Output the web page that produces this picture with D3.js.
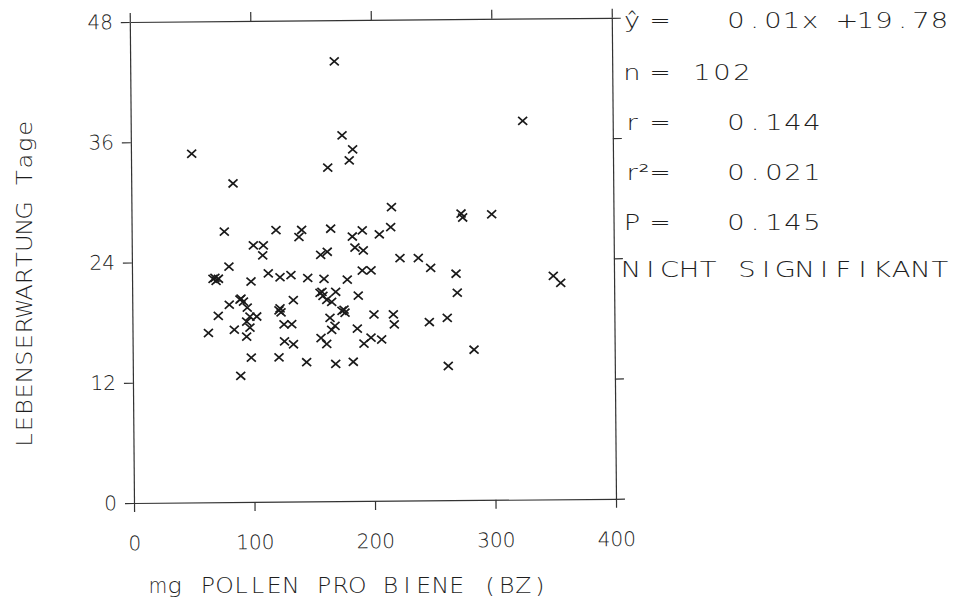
<!DOCTYPE html>
<html>
<head>
<meta charset="utf-8">
<script src="https://cdn.jsdelivr.net/npm/d3@7"></script>
<style>
  body { margin: 0; background: #fff; }
  svg text { font-family: "DejaVu Sans", sans-serif; font-weight: 200; fill: #1e1e1e; }
</style>
</head>
<body>
<div id="chart"></div>
<script>
// pollen per bee (mg) and life expectancy (days), one entry per bee
var pollenMg = [169.4, 50.4, 84.5, 175.3, 184.0, 181.1, 163.2, 215.8, 325.3, 273.5,
    274.8, 298.9, 222.5, 237.7, 247.9, 268.9, 269.8, 349.6, 355.7, 261.3,
    246.4, 283.3, 261.8, 76.9, 119.8, 100.9, 109.2, 108.6, 80.5, 67.2,
    69.7, 71.7, 98.7, 113.1, 122.8, 131.9, 133.7, 80.5, 89.4, 92.3,
    95.4, 71.3, 97.6, 103.2, 94.8, 97.5, 84.5, 63.0, 94.7, 121.7,
    123.4, 125.8, 132.2, 126.1, 133.5, 98.4, 121.4, 89.5, 141.1, 138.8,
    165.2, 183.1, 191.4, 205.5, 215.0, 185.2, 192.1, 156.7, 162.2, 191.1,
    198.4, 145.8, 159.3, 178.6, 155.9, 158.3, 168.9, 161.4, 165.5, 187.6,
    174.0, 176.5, 200.5, 216.6, 217.3, 164.0, 168.1, 165.3, 186.6, 156.4,
    161.1, 197.9, 192.0, 206.7, 144.3, 168.4, 183.0, 68.8, 90.3, 122.6,
    157.5, 175.7]
var lifespanDays = [43.9, 34.8, 31.8, 36.5, 35.1, 34.0, 33.3, 29.3, 37.8, 28.6,
    28.2, 28.5, 24.2, 24.2, 23.2, 22.6, 20.7, 22.3, 21.6, 18.2,
    17.8, 15.0, 13.4, 27.0, 27.1, 25.6, 25.6, 24.6, 23.5, 22.3,
    22.1, 22.3, 22.0, 22.8, 22.4, 22.6, 20.1, 19.7, 20.2, 20.0,
    19.4, 18.6, 18.5, 18.5, 18.0, 17.4, 17.2, 16.9, 16.5, 19.1,
    18.9, 17.7, 17.7, 16.0, 15.7, 14.4, 14.4, 12.6, 27.1, 26.4,
    27.2, 26.4, 27.0, 26.6, 27.3, 25.3, 25.0, 24.6, 24.9, 23.0,
    23.0, 22.3, 22.2, 22.1, 20.8, 20.5, 20.9, 20.1, 19.9, 20.5,
    19.0, 18.8, 18.6, 18.6, 17.6, 18.3, 17.5, 17.1, 17.2, 16.3,
    15.7, 16.3, 15.7, 16.1, 13.9, 13.7, 13.9, 22.4, 20.3, 19.3,
    20.9, 19.1]

var xTicks = [0, 100, 200, 300, 400]
var yTicks = [0, 12, 24, 36, 48]
var xTitle = "mg POLLEN PRO BIENE (BZ)"
var yTitle = "LEBENSERWARTUNG Tage"
var statNames = ["ŷ", "n", "r", "r²", "P"]
var statValues = ["0.01x +19.78", "102", "0.144", "0.021", "0.145"]
var verdict = "NICHT SIGNIFIKANT"

var svg = d3.select("#chart")
    .append("svg")
        .attr("width", 963)
        .attr("height", 598)

var x = d3.scaleLinear().domain([0, 400]).range([134, 616])
var y = d3.scaleLinear().domain([0, 48]).range([503, 22])

// plotter lettering: wide glyphs, each one centred in a fixed cell
function cellText(parent, str, cx0, cell, baseline, widen) {
    parent.append("g")
        .selectAll("text")
        .data(str.split(""))
        .join("text")
            .attr("text-anchor", "middle")
            .attr("transform", function(d, i) {
                var w = /[mMW]/.test(d) ? 0.92 : widen
                return "translate(" + (cx0 + i * cell) + "," + baseline + ") scale(" + w + ",1)"
            })
            .text(function(d) { return d })
}

// the scanned plot sits a little crooked
var plot = svg.append("g")
    .attr("transform", "rotate(-0.5 134 503)")

function styleAxis(g) {
    g.attr("font-family", "DejaVu Sans, sans-serif")
        .attr("font-size", 20)
    g.select(".domain").attr("stroke", "#333").attr("stroke-width", 1.2)
    g.selectAll(".tick line").attr("stroke", "#333").attr("stroke-width", 1.2)
    g.selectAll(".tick text").attr("fill", "#1e1e1e")
}

plot.append("g")
    .attr("transform", "translate(0,503)")
    .call(d3.axisBottom(x).tickValues(xTicks).tickSize(9).tickSizeOuter(0).tickPadding(24))
    .call(styleAxis)
plot.append("g")
    .attr("transform", "translate(0,22)")
    .call(d3.axisTop(x).tickValues(xTicks).tickSize(9).tickSizeOuter(0).tickFormat(""))
    .call(styleAxis)
plot.append("g")
    .attr("transform", "translate(134,0)")
    .call(d3.axisLeft(y).tickValues(yTicks).tickSize(9).tickSizeOuter(0).tickPadding(8))
    .call(styleAxis)
plot.append("g")
    .attr("transform", "translate(616,0)")
    .call(d3.axisRight(y).tickValues(yTicks).tickSize(9).tickSizeOuter(0).tickFormat(""))
    .call(styleAxis)

plot.append("g")
    .selectAll("path")
    .data(d3.zip(pollenMg, lifespanDays))
    .join("path")
        .attr("transform", function(d) { return "translate(" + x(d[0]) + "," + y(d[1]) + ")" })
        .attr("d", "M-4.5,-4L4.5,4M-4.5,4L4.5,-4")
        .attr("fill", "none")
        .attr("stroke", "#1a1a1a")
        .attr("stroke-width", 1.7)

// axis titles
var xt = svg.append("g").style("font-size", "20.5px")
cellText(xt, xTitle, 158, 16.6, 593, 1.15)

var yt = svg.append("g")
    .style("font-size", "21.5px")
    .attr("transform", "translate(32,447) rotate(-90)")
cellText(yt, yTitle, 7, 16.4, 0, 1.12)

// regression summary at the right
var lineY = [28, 80, 130, 180, 230]
var valueX = [736, 702, 736, 736, 736]
var valueCell = [18.5, 20, 19, 19, 19]

var stats = svg.append("g").style("font-size", "21px")
statNames.forEach(function(name, i) {
    cellText(stats, name, 632, 12, lineY[i], 1.3)
    cellText(stats, "=", 660, 0, lineY[i], 1.2)
    cellText(stats, statValues[i], valueX[i], valueCell[i], lineY[i], 1.3)
})
cellText(stats, verdict, 631, 19.3, 277, 1.3)
</script>
</body>
</html>
